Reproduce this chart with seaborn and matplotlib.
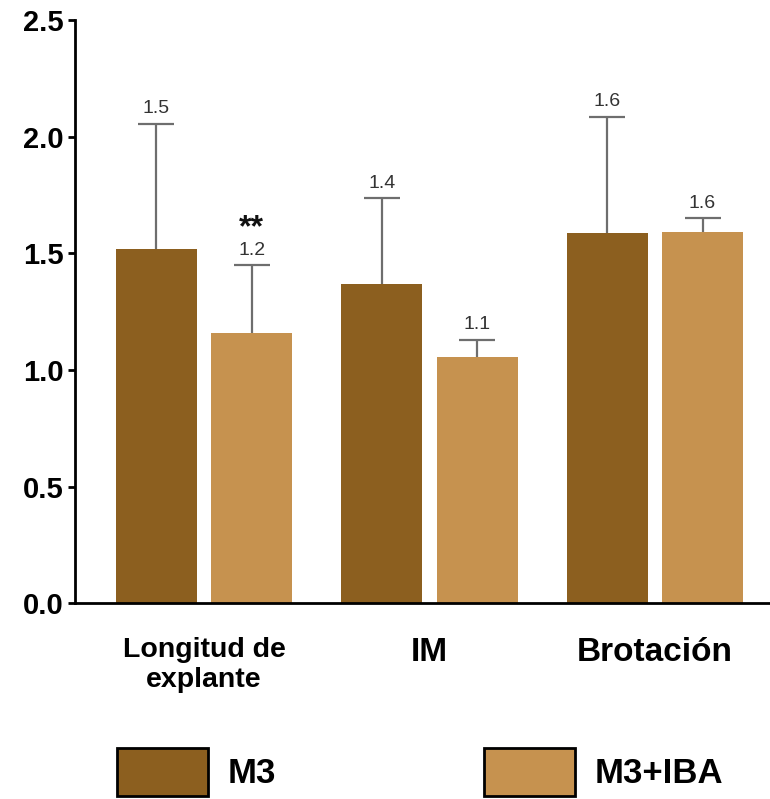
import matplotlib
matplotlib.use("Agg")
import matplotlib.pyplot as plt
import seaborn as sns
import pandas as pd
from matplotlib.patches import Patch

categories = ["Longitud de\nexplante", "IM", "Brotación"]
groups = ["M3", "M3+IBA"]
m3_values = [1.52, 1.37, 1.586]
iba_values = [1.16, 1.054, 1.59]
m3_errors = [0.535, 0.367, 0.50]
iba_errors = [0.29, 0.075, 0.06]
significance = ["", "", ""]
iba_significance = ["**", "", ""]
yticks = [0.0, 0.5, 1.0, 1.5, 2.0, 2.5]

colors = {"M3": "#8C5F1F", "M3+IBA": "#C6924F"}

df = pd.DataFrame({
    "category": categories * 2,
    "group": [groups[0]] * 3 + [groups[1]] * 3,
    "value": m3_values + iba_values,
})

sns.set_style("white")
plt.rcParams["font.family"] = ["Liberation Sans", "DejaVu Sans"]
plt.rcParams["text.color"] = "black"
plt.rcParams["xtick.color"] = "black"
plt.rcParams["ytick.color"] = "black"

fig = plt.figure(figsize=(7.7, 7.99), dpi=100)
ax = fig.add_axes([75 / 770, 1 - 603.3 / 799, 1 - 75 / 770, (603.3 - 20) / 799])

sns.barplot(data=df, x="category", y="value", hue="group", palette=colors,
            order=categories, hue_order=groups, width=0.847, gap=0.152,
            errorbar=None, legend=False, ax=ax, linewidth=0, saturation=1)

err_color = "#6e6e6e"
all_errs = [m3_errors, iba_errors]
all_vals = [m3_values, iba_values]
all_sig = [significance, iba_significance]
for cont, vals, errs, sigs in zip(ax.containers, all_vals, all_errs, all_sig):
    for bar, v, e, s in zip(cont, vals, errs, sigs):
        xc = bar.get_x() + bar.get_width() / 2
        _, caps, _ = ax.errorbar([xc], [v], yerr=[[0], [e]], fmt="none", ecolor=err_color,
                                 elinewidth=1.6, capsize=13, capthick=1.6, zorder=3)
        caps[0].set_visible(False)
        ax.annotate(f"{v:.1f}", (xc, v + e), xytext=(0, 7.5), textcoords="offset points",
                    ha="center", va="baseline", fontsize=14, color="#333333")
        if s:
            ax.annotate(s, (xc, v + e), xytext=(0, 21), textcoords="offset points",
                        ha="center", va="baseline", fontsize=23, fontweight="bold",
                        color="#111111")

ax.set_xlim(-0.572, 2.511)
ax.set_ylim(0, 2.5)
ax.set_yticks(yticks)
ax.set_yticklabels([f"{t:.1f}" for t in yticks], fontsize=21, fontweight="bold", color="black")
ax.set_xlabel("")
ax.set_ylabel("")
for sp in ["top", "right"]:
    ax.spines[sp].set_visible(False)
for sp in ["left", "bottom"]:
    ax.spines[sp].set_color("black")
    ax.spines[sp].set_linewidth(2)
ax.tick_params(axis="y", direction="out", length=5, width=2, color="black", pad=3, left=True)
ax.tick_params(axis="x", length=0, pad=24)
xt_sizes = [20.5, 24, 24]
for lab, fs in zip(ax.get_xticklabels(), xt_sizes):
    lab.set_fontsize(fs)
    lab.set_fontweight("bold")
    lab.set_color("black")
    lab.set_linespacing(1.22)

handles = [Patch(facecolor=colors[g], edgecolor="black", linewidth=2, label=g) for g in groups]
fig.legend(handles=handles, loc="upper left", bbox_to_anchor=(117 / 770, 1 - 748 / 799),
           ncol=2, frameon=False, borderpad=0, borderaxespad=0,
           handlelength=2.63, handleheight=1.75, handletextpad=0.55, columnspacing=6.0,
           prop={"size": 25, "weight": "bold"})

fig.savefig("out.png", dpi=100)
